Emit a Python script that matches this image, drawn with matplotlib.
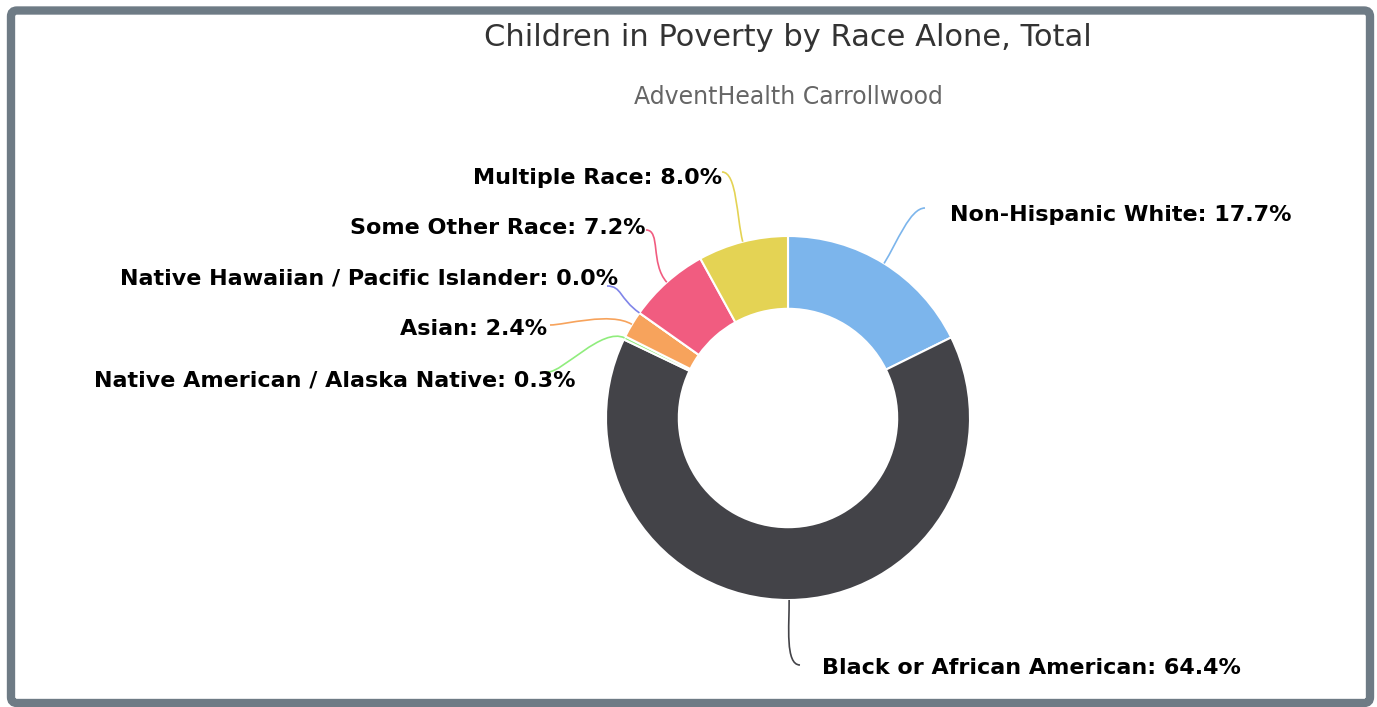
import matplotlib.pyplot as plt
from matplotlib.patches import FancyBboxPatch, PathPatch
from matplotlib.path import Path
import numpy as np

# data
categories = [
    "Non-Hispanic White",
    "Black or African American",
    "Native American / Alaska Native",
    "Asian",
    "Native Hawaiian / Pacific Islander",
    "Some Other Race",
    "Multiple Race",
]
shares = [17.7, 64.4, 0.3, 2.4, 0.0, 7.2, 8.0]
colors = ["#7cb5ec", "#434348", "#90ed7d", "#f7a35c", "#8085e9", "#f15c80", "#e4d354"]

W, H = 1377, 707
CX, CY, R = 788, H - 418, 182

# label anchor (x, y from top), alignment, connector end (x, y from top)
label_layout = {
    "Non-Hispanic White": (950, 215, "left", (925, 208)),
    "Black or African American": (822, 668, "left", (800, 665)),
    "Native American / Alaska Native": (575, 380, "right", (548, 372)),
    "Asian": (547, 329, "right", (550, 325)),
    "Native Hawaiian / Pacific Islander": (618, 279, "right", (607, 286)),
    "Some Other Race": (645, 228, "right", (646, 230)),
    "Multiple Race": (722, 178, "right", (722, 172)),
}

fig = plt.figure(figsize=(W / 100, H / 100), dpi=100)
ax = fig.add_axes([0, 0, 1, 1])

frame = FancyBboxPatch((11, 4), 1359, 692.5, boxstyle="round,pad=0,rounding_size=6",
                       fc="white", ec="#6e7b85", lw=6, zorder=0)
ax.add_patch(frame)

wedges, _ = ax.pie(shares, colors=colors, startangle=90, counterclock=False,
                   center=(CX, CY), radius=R,
                   wedgeprops=dict(width=R * 0.4, edgecolor="white", linewidth=1.5))
ax.set_aspect("equal")
ax.set_xlim(0, W)
ax.set_ylim(0, H)
ax.axis("off")

for w, name, val, col in zip(wedges, categories, shares, colors):
    mid = np.deg2rad((w.theta1 + w.theta2) / 2)
    lx, ly, ha, (ex, ey) = label_layout[name]
    ly, ey = H - ly, H - ey
    p0 = (CX + R * np.cos(mid), CY + R * np.sin(mid))
    p1 = (CX + (R + 25) * np.cos(mid), CY + (R + 25) * np.sin(mid))
    p2 = (ex - 15, ey) if ha == "left" else (ex + 15, ey)
    path = Path([p0, p1, p2, (ex, ey)], [Path.MOVETO, Path.CURVE4, Path.CURVE4, Path.CURVE4])
    ax.add_patch(PathPatch(path, fc="none", ec=col, lw=1.2, zorder=3))
    ax.text(lx, ly, f"{name}: {val:.1f}%", ha=ha, va="center", fontsize=16,
            fontweight="bold", color="#000000", zorder=4)

fig.text(788 / W, 1 - 38 / H, "Children in Poverty by Race Alone, Total", ha="center",
         va="center", fontsize=22, color="#333333")
fig.text(788 / W, 1 - 97 / H, "AdventHealth Carrollwood", ha="center", va="center",
         fontsize=17, color="#666666")

fig.savefig("out.png", dpi=100)
